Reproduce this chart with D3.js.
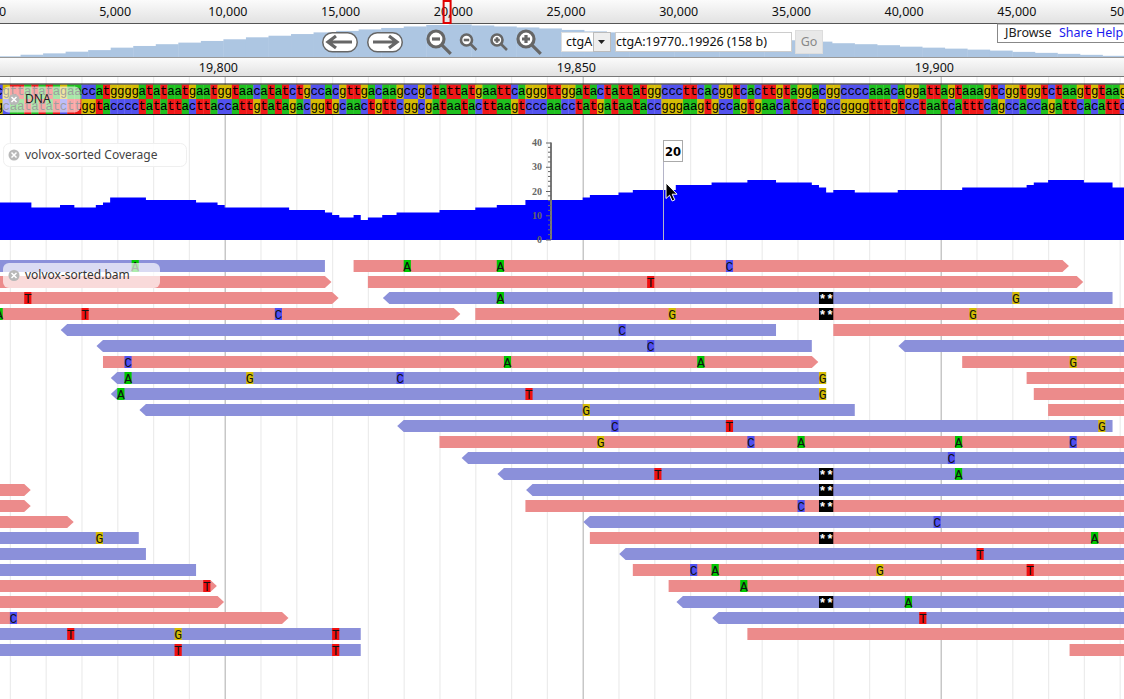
<!DOCTYPE html>
<html><head><meta charset="utf-8">
<script src="https://cdn.jsdelivr.net/npm/d3@7"></script>
<style>html,body{margin:0;padding:0;background:#fff;overflow:hidden}svg{display:block}
text{font-family:"Noto Sans",sans-serif}</style></head><body><div id="c"></div>
<script>
// ---------- data ----------
const overviewTicks=[0,5000,10000,15000,20000,25000,30000,35000,40000,45000,50000];
const overviewBinStart=d3.range(0,50).map(i=>i*1000);
const overviewHist=[0.7,2.3,3.7,5.4,7,9.5,11.2,13,14.6,16.3,18,20,21.6,23.3,25,26.5,28,29.5,31,32.5,33,32,31,30,29,27.5,26,25,24,23,22,21,20,19,18,17,15.6,14,13,12,10.5,9.5,8.5,7.5,6.5,5.2,4.2,3.2,2.2,1.2];
const viewStart=19770, viewEnd=19926;
const seqFirstBase=19768;
const seqTop="cgttatatagaaccatggggatataatgaatggtaacatatctgccacgttgacaagccgctattatgaattcagggttggatactattatggcccttcacggtcacttgtaggacggccccaaacaggattagtaaagtcggtggtctaagtgtaag";
const seqBottom="gcaatatatcttggtacccctatattacttaccattgtatagacggtgcaactgttcggcgataatacttaagtcccaacctatgataataccgggaagtgccagtgaacatcctgccggggtttgtcctaatcatttcagccaccagattcacattc";
const rulerMajor=[19800,19850,19900];
const rulerMinor=[19770,19775,19780,19785,19790,19795,19805,19810,19815,19820,19825,19830,19835,19840,19845,19855,19860,19865,19870,19875,19880,19885,19890,19895,19905,19910,19915,19920,19925];
const covStart=[19760,19773,19777,19779,19782,19783,19784,19789,19796,19799,19800,19809,19814,19815,19816,19818,19819,19820,19822,19824,19830,19835,19838,19842,19850,19851,19855,19857,19863,19868,19873,19877,19882,19883,19884,19885,19888,19894,19903,19912,19913,19915,19920,19924,19940];
const covValue=[15,13,14,13,14,15,17,16,15,14,13,12,11,10,9,10,8,9,10,11,12,13,14,16,17,18,19,20,22,23,24,23,22,21,19,20,19,20,21,22,23,24,23,21,21];
const covTicks=[0,10,20,30,40];
const covMinor=[2,4,6,8,12,14,16,18,22,24,26,28,32,34,36,38];
const readRow   =[0,0,1,1,2,2,3,3,4,4,5,5,6,6,7,7,8,8,9,9,10,11,12,13,14,14,15,15,16,16,17,17,18,18,19,19,20,20,21,21,22,22,23,23,24,24];
const readStrand=[-1,1,1,1,1,-1,1,1,-1,1,-1,-1,1,1,-1,1,-1,1,-1,1,-1,1,-1,-1,1,-1,1,1,1,-1,-1,1,-1,-1,-1,1,1,1,1,-1,1,-1,-1,1,-1,1];
const readStart =[19720,19818,19720,19820,19720,19823,19720,19835,19778,19885,19783,19895,19783,19903,19785,19912,19785,19913,19789,19915,19825,19830,19834,19839,19680,19843,19680,19842,19680,19851,19680,19851,19680,19856,19680,19857,19680,19862,19680,19864,19700,19869,19720,19873,19720,19918];
const readEnd   =[19814,19917,19814,19919,19815,19924,19832,19960,19877,19960,19882,19960,19882,19960,19884,19960,19884,19960,19888,19960,19924,19960,19960,19960,19772,19960,19772,19960,19778,19960,19788,19960,19789,19960,19796,19960,19798,19960,19799,19960,19808,19960,19819,19960,19819,19960];
const mmRow =[0,0,0,0,1,2,2,2,3,3,3,3,3,4,5,6,6,6,6,7,7,7,7,8,8,8,9,10,10,10,11,11,11,11,11,12,13,13,15,16,17,17,18,19,19,19,19,20,20,21,22,22,23,23,23,24,24];
const mmPos =[19787,19825,19838,19870,19859,19772,19838,19910,19768,19780,19807,19862,19904,19855,19859,19786,19839,19866,19918,19786,19803,19824,19883,19785,19842,19883,19850,19854,19870,19922,19852,19873,19880,19902,19918,19901,19860,19902,19880,19899,19782,19921,19905,19865,19868,19891,19912,19797,19872,19895,19770,19897,19778,19793,19815,19793,19815];
const mmBase=["A","A","A","C","T","T","A","G","A","T","C","G","G","C","C","C","A","A","G","A","G","C","G","A","T","G","G","C","T","G","G","C","A","A","C","C","T","A","C","C","G","A","T","C","A","G","T","T","A","A","C","T","T","G","T","T","T"];
const insRow=[2,3,13,14,15,17,21];
const insPos=[19883,19883,19883,19883,19883,19883,19883];
const insLabel="**";
const tipValue=20, tipBase=19861;
const labels=["DNA","volvox-sorted Coverage","volvox-sorted.bam"];
// ---------- scales ----------
const W=1124,H=699;
const x=d3.scaleLinear().domain([19800,19900]).range([224.7,940.7]);
const baseW=x(1)-x(0);
const ovX=d3.scaleLinear().domain([0,50000]).range([-2,1125]);
const ovY=d3.scaleLinear().domain([0,33]).range([57,24.5]);
const covY=d3.scaleLinear().domain([0,40]).range([240,140]);
const covAxisY=d3.scaleLinear().domain([0,40]).range([239.5,142.5]);
const rowY=d3.scaleLinear().domain([0,1]).range([260,276]);
const rowH=12;
const baseColor={a:"#1fc01f",c:"#5252ee",g:"#d5bb04",t:"#f01818",A:"#00c800",C:"#5050f0",G:"#d5bb04",T:"#f01010"};
const svg=d3.select("#c").append("svg").attr("width",W).attr("height",H).attr("viewBox",`0 0 ${W} ${H}`);
const defs=svg.append("defs");
const g1=defs.append("linearGradient").attr("id","bar").attr("x1",0).attr("x2",0).attr("y1",0).attr("y2",1);
g1.append("stop").attr("offset",0).attr("stop-color","#fbfbfb");g1.append("stop").attr("offset",1).attr("stop-color","#e2e2e2");
const mono='"Liberation Mono",monospace';
// ---------- grid ----------
const grid=svg.append("g");
grid.selectAll("line.mi").data(rulerMinor).join("line").attr("x1",d=>x(d)+.5).attr("x2",d=>x(d)+.5).attr("y1",76).attr("y2",H).attr("stroke","#ececec").attr("stroke-width",1.2);
grid.selectAll("line.ma").data(rulerMajor).join("line").attr("x1",d=>x(d)+.5).attr("x2",d=>x(d)+.5).attr("y1",76).attr("y2",H).attr("stroke","#b9b9b9").attr("stroke-width",1.2);
// ---------- DNA ----------
const dna=svg.append("g");
function strand(seq,y0,h){
  const chars=seq.split("").map((c,i)=>({c,b:seqFirstBase+i}));
  dna.selectAll(null).data(chars).join("rect").attr("x",d=>x(d.b)).attr("y",y0).attr("width",baseW+.3).attr("height",h).attr("fill",d=>baseColor[d.c]);
  dna.selectAll(null).data(chars).join("text").attr("x",d=>x(d.b)+baseW/2).attr("y",y0+h/2+3.5).attr("text-anchor","middle").attr("font-size",12.5).style("font-family",mono).attr("fill","#000").text(d=>d.c);
}
strand(seqTop,84.5,14.5);strand(seqBottom,99,15);
dna.append("line").attr("x1",0).attr("x2",W).attr("y1",84).attr("y2",84).attr("stroke","#111");
dna.append("line").attr("x1",0).attr("x2",W).attr("y1",114.5).attr("y2",114.5).attr("stroke","#111");
// ---------- coverage ----------
const covData=covStart.map((s,i)=>({s,v:covValue[i]}));
svg.append("path").datum(covData).attr("fill","#0000ff")
  .attr("d",d3.area().x(d=>x(d.s)).y0(covY(0)).y1(d=>covY(d.v)).curve(d3.curveStepAfter));
// ---------- reads ----------
const reads=readRow.map((r,i)=>({r,st:readStrand[i],s:readStart[i],e:readEnd[i]}));
const tip=6.5;
svg.append("g").selectAll("path").data(reads).join("path")
 .attr("fill",d=>d.st>0?"#ec8b8b":"#8b90da")
 .attr("d",d=>{const y=rowY(d.r),a=x(d.s),b=x(d.e),m=y+rowH/2,p=d3.path();
   if(d.st>0){p.moveTo(a,y);p.lineTo(b,y);p.lineTo(b+tip,m);p.lineTo(b,y+rowH);p.lineTo(a,y+rowH);}
   else{p.moveTo(a,y);p.lineTo(b,y);p.lineTo(b,y+rowH);p.lineTo(a,y+rowH);p.lineTo(a-tip,m);}
   p.closePath();return p.toString();});
const mm=mmRow.map((r,i)=>({r,b:mmPos[i],c:mmBase[i]}));
const mg=svg.append("g");
mg.selectAll("rect").data(mm).join("rect").attr("x",d=>x(d.b)).attr("y",d=>rowY(d.r)).attr("width",baseW).attr("height",rowH).attr("fill",d=>baseColor[d.c]);
mg.selectAll("text").data(mm).join("text").attr("x",d=>x(d.b)+baseW/2).attr("y",d=>rowY(d.r)+10.5).attr("text-anchor","middle").attr("font-size",13).style("font-family",mono).attr("fill","#111").text(d=>d.c);
const ins=insRow.map((r,i)=>({r,b:insPos[i]}));
const ig=svg.append("g");
ig.selectAll("rect").data(ins).join("rect").attr("x",d=>x(d.b)).attr("y",d=>rowY(d.r)).attr("width",2*baseW).attr("height",rowH).attr("fill","#000");
ig.selectAll("text").data(ins).join("text").attr("x",d=>x(d.b)+baseW).attr("y",d=>rowY(d.r)+11).attr("text-anchor","middle").attr("font-size",12.5).attr("font-weight","bold").style("font-family",mono).attr("fill","#fff").text(insLabel);
// ---------- coverage axis ----------
const axG=svg.append("g").attr("transform","translate(551,0)");
axG.call(d3.axisLeft(covAxisY).tickValues(covTicks).tickSize(5).tickPadding(4).tickFormat(d3.format("d")));
axG.select(".domain").attr("stroke","#777").attr("stroke-width",2).attr("d",`M0,${covAxisY(40)}V${covAxisY(0)}`);
axG.selectAll(".tick line").attr("stroke","#666").attr("stroke-width",1);
axG.selectAll(".tick text").style("font-family",'"Liberation Serif",serif').attr("font-size",10).attr("font-weight","bold").attr("fill","#666");
axG.selectAll("line.m").data(covMinor).join("line").attr("x1",-3).attr("x2",0).attr("y1",d=>covAxisY(d)).attr("y2",d=>covAxisY(d)).attr("stroke","#666");
// ---------- tooltip ----------
const tx=Math.round(x(tipBase)+2)+.5;
svg.append("line").attr("x1",tx).attr("x2",tx).attr("y1",161).attr("y2",240).attr("stroke","#b4b4c8").attr("stroke-width",1);
svg.append("rect").attr("x",tx).attr("y",140.5).attr("width",19).attr("height",21).attr("fill","#fff").attr("stroke","#aaa");
svg.append("text").attr("x",tx+9.5).attr("y",155.5).attr("text-anchor","middle").attr("font-size",11.5).attr("font-weight","bold").style("font-family",'"DejaVu Sans",sans-serif').attr("fill","#000").text(tipValue);
// ---------- track labels ----------
function label(xa,ya,w,h,fill,stroke,txt,color){
  const g=svg.append("g");
  g.append("rect").attr("x",xa).attr("y",ya).attr("width",w).attr("height",h).attr("rx",6).attr("fill",fill).attr("stroke",stroke);
  const cy=ya+h/2;
  g.append("circle").attr("cx",14).attr("cy",cy).attr("r",5.5).attr("fill","#b8b8b8");
  g.append("path").attr("d",`M11.5,${cy-2.5}L16.5,${cy+2.5}M16.5,${cy-2.5}L11.5,${cy+2.5}`).attr("stroke","#fff").attr("stroke-width",1.5);
  g.append("text").attr("x",25).attr("y",cy+3.8).attr("font-size",12).attr("fill",color).text(txt);
}
label(2.5,86.5,78,26,"rgba(255,255,255,.62)","none",labels[0],"#222");
label(3.5,143.5,183,23,"rgba(255,255,255,.9)","#efefef",labels[1],"#444");
label(3,263,157,25,"rgba(255,255,255,.68)","none",labels[2],"#333");
// ---------- header ----------
const head=svg.append("g");
head.append("rect").attr("width",W).attr("height",23).attr("fill","url(#bar)");
head.append("rect").attr("y",23.5).attr("width",W).attr("height",34).attr("fill","#fff");
head.append("rect").attr("y",58).attr("width",W).attr("height",18).attr("fill","url(#bar)");
const ovData=overviewBinStart.map((s,i)=>({s,v:overviewHist[i]}));
head.selectAll("rect.h").data(ovData).join("rect").attr("class","h").attr("x",d=>ovX(d.s)).attr("width",ovX(1000)-ovX(0)+.4).attr("y",d=>ovY(d.v)).attr("height",d=>ovY(0)-ovY(d.v)).attr("fill","#adc6e2");
head.append("line").attr("x1",0).attr("x2",W).attr("y1",23.5).attr("y2",23.5).attr("stroke","#555");
head.append("line").attr("x1",0).attr("x2",W).attr("y1",57.5).attr("y2",57.5).attr("stroke","#999");
head.append("line").attr("x1",0).attr("x2",W).attr("y1",76.5).attr("y2",76.5).attr("stroke","#777");
head.selectAll("text.ot").data(overviewTicks).join("text").attr("class","ot").attr("x",d=>ovX(d)+4.5).attr("y",16).attr("text-anchor","middle").attr("font-size",12.5).attr("fill","#111").text(d3.format(","));
head.selectAll("text.rt").data(rulerMajor).join("text").attr("class","rt").attr("x",d=>x(d)-6.3).attr("y",72).attr("text-anchor","middle").attr("font-size",12.5).attr("fill","#111").text(d3.format(","));
head.append("rect").attr("x",ovX(viewStart)).attr("y",1).attr("width",Math.max(ovX(viewEnd)-ovX(viewStart),7)).attr("height",22).attr("fill","none").attr("stroke","#e00000").attr("stroke-width",2);
// nav buttons
function pill(xa,dir){
  const g=head.append("g").attr("transform",`translate(${xa},32)`);
  g.append("rect").attr("x",.75).attr("y",.75).attr("width",34.5).attr("height",19).attr("rx",9.5).attr("fill","#fff").attr("stroke","#666").attr("stroke-width",1.5);
  const d=dir<0?"M30,10H7M14,4L6,10L14,16":"M6,10H29M22,4L30,10L22,16";
  g.append("path").attr("d",d).attr("fill","none").attr("stroke","#666").attr("stroke-width",3.2);
}
pill(322,-1);pill(367,1);
function zoom(cx,cy,r,len,plus,sw){
  const g=head.append("g").attr("fill","none").attr("stroke","#666").attr("stroke-width",sw);
  g.append("circle").attr("cx",cx).attr("cy",cy).attr("r",r).attr("fill","#fff");
  const q=r*.5;
  g.append("path").attr("d",`M${cx-q},${cy}H${cx+q}`+(plus?`M${cx},${cy-q}V${cy+q}`:""));
  const k=r*.72;
  g.append("path").attr("d",`M${cx+k},${cy+k}L${cx+k+len},${cy+k+len}`);
}
zoom(436,39,8,9,false,3.2);zoom(466.5,40,5.5,6,false,2.6);zoom(497,40,5.5,6,true,2.6);zoom(526,39,8,9,true,3.2);
// location box
head.append("rect").attr("x",561.5).attr("y",32.5).attr("width",32).attr("height",19).attr("fill","#fff").attr("stroke","#ddd");
head.append("rect").attr("x",593.5).attr("y",32.5).attr("width",17).attr("height",19).attr("fill","#eee").attr("stroke","#bbb");
head.append("path").attr("d","M598,40h7l-3.5,4z").attr("fill","#222");
head.append("text").attr("x",566).attr("y",46).attr("font-size",12.5).attr("fill","#111").text("ctgA");
head.append("rect").attr("x",615.5).attr("y",32.5).attr("width",176).attr("height",19).attr("fill","#fff").attr("stroke","#ccc");
head.append("text").attr("x",616).attr("y",46).attr("font-size",12.5).attr("fill","#111").text("ctgA:19770..19926 (158 b)");
head.append("rect").attr("x",795.5).attr("y",30.5).attr("width",27).attr("height",23).attr("fill","#e8e8e8").attr("stroke","#ddd");
head.append("text").attr("x",809).attr("y",46).attr("text-anchor","middle").attr("font-size",12.5).attr("fill","#888").text("Go");
head.append("rect").attr("x",997.5).attr("y",24).attr("width",130).attr("height",18.5).attr("fill","#fff").attr("stroke","#888");
head.append("text").attr("x",1005).attr("y",37).attr("font-size",12.5).attr("fill","#222").text("JBrowse");
head.append("text").attr("x",1059).attr("y",37).attr("font-size",12.5).attr("fill","#1a1aee").text("Share");
head.append("text").attr("x",1096).attr("y",37).attr("font-size",12.5).attr("fill","#1a1aee").text("Help");
// cursor
svg.append("path").attr("transform","translate(666,183)").attr("d","M0,0V15.5L3.6,12.2L6.2,18L8.8,16.8L6.2,11.2H11Z").attr("fill","#000").attr("stroke","#fff").attr("stroke-width",1);
</script></body></html>
